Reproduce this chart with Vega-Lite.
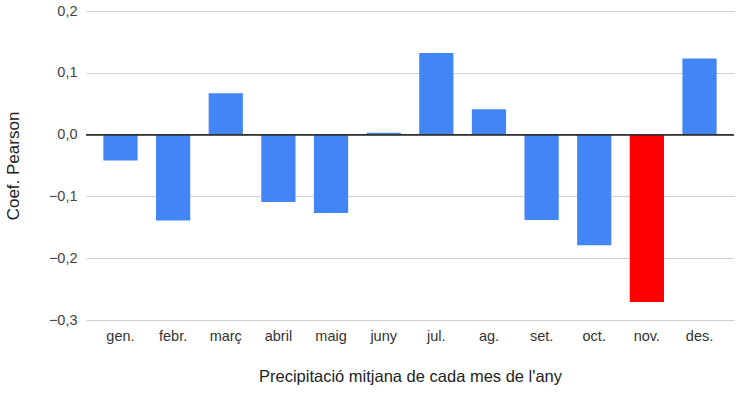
{
  "$schema": "https://vega.github.io/schema/vega-lite/v6.json",
  "width": 648,
  "height": 309,
  "autosize": {"type": "none"},
  "padding": {"left": 86, "top": 11, "right": 10, "bottom": 74},
  "background": "white",
  "config": {"view": {"stroke": null}, "font": "Liberation Sans"},
  "data": {"values": [
    {"mes": "gen.", "valor": -0.042},
    {"mes": "febr.", "valor": -0.139},
    {"mes": "març", "valor": 0.067},
    {"mes": "abril", "valor": -0.109},
    {"mes": "maig", "valor": -0.127},
    {"mes": "juny", "valor": 0.003},
    {"mes": "jul.", "valor": 0.132},
    {"mes": "ag.", "valor": 0.041},
    {"mes": "set.", "valor": -0.138},
    {"mes": "oct.", "valor": -0.179},
    {"mes": "nov.", "valor": -0.271},
    {"mes": "des.", "valor": 0.123}
  ]},
  "layer": [
    {
      "mark": {"type": "bar"},
      "encoding": {
        "x": {
          "field": "mes", "type": "nominal", "sort": null,
          "scale": {"paddingInner": 0.35, "paddingOuter": 0.33},
          "axis": {
            "title": "Precipitació mitjana de cada mes de l'any",
            "titleFontSize": 16.5, "titleFontWeight": "normal", "titleColor": "#222",
            "titlePadding": 26,
            "labelAngle": 0, "labelFontSize": 14.5, "labelColor": "#333",
            "labelPadding": 9, "ticks": false, "tickSize": 0, "domain": false, "grid": false
          }
        },
        "y": {
          "field": "valor", "type": "quantitative",
          "scale": {"domain": [-0.3, 0.2], "nice": false, "zero": false},
          "axis": {
            "title": "Coef. Pearson",
            "titleFontSize": 17, "titleFontWeight": "normal", "titleColor": "#222",
            "titlePadding": 26,
            "values": [-0.3, -0.2, -0.1, 0, 0.1, 0.2],
            "labelExpr": "replace(format(datum.value, '.1f'), '.', ',')",
            "labelFontSize": 14.5, "labelColor": "#444", "labelPadding": 9,
            "ticks": false, "tickSize": 0, "domain": false,
            "grid": true, "gridColor": "#d0d0d0", "gridWidth": 1
          }
        },
        "color": {
          "condition": {"test": "datum.mes === 'nov.'", "value": "#ff0000"},
          "value": "#4285f4"
        }
      }
    },
    {
      "mark": {"type": "rule", "color": "#333333", "strokeWidth": 1},
      "encoding": {"y": {"datum": 0, "type": "quantitative"}}
    }
  ]
}
